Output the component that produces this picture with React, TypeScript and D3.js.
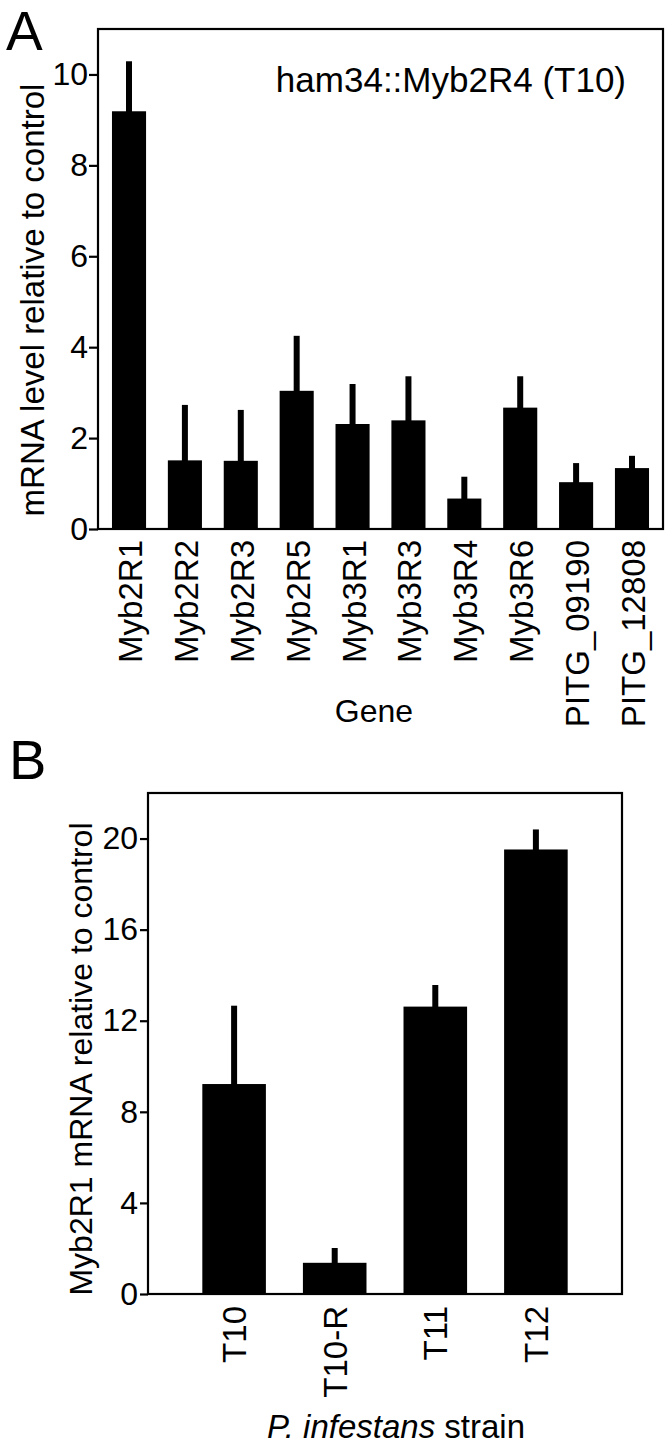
import React, { useEffect, useRef } from 'react';
import * as d3 from 'd3';

// panel A: gene expression in ham34::Myb2R4 (T10)
const genes = ['Myb2R1', 'Myb2R2', 'Myb2R3', 'Myb2R5', 'Myb3R1', 'Myb3R3', 'Myb3R4', 'Myb3R6', 'PITG_09190', 'PITG_12808'];
const geneMeans = [9.19, 1.51, 1.5, 3.04, 2.31, 2.39, 0.67, 2.67, 1.03, 1.34];
const geneErrors = [1.1, 1.22, 1.12, 1.21, 0.88, 0.97, 0.48, 0.69, 0.42, 0.27];
const geneTicks = [0, 2, 4, 6, 8, 10];

// panel B: Myb2R1 level per strain
const strains = ['T10', 'T10-R', 'T11', 'T12'];
const strainMeans = [9.22, 1.37, 12.62, 19.52];
const strainErrors = [3.44, 0.65, 0.95, 0.88];
const strainTicks = [0, 4, 8, 12, 16, 20];

const FONT = "'Liberation Sans', Arial, Helvetica, sans-serif";

function drawPanel(svg, opts) {
    const { left, right, top, bottom, yMax, cats, means, errs, ticks,
        padInner, padOuter, tickSize, tickPad, labelEnd, labelDx } = opts;

    const x = d3.scaleBand()
        .domain(cats)
        .range([left, right])
        .paddingInner(padInner)
        .paddingOuter(padOuter);

    const y = d3.scaleLinear()
        .domain([0, yMax])
        .range([bottom, top]);

    const g = svg.append('g');

    g.selectAll('rect.bar')
        .data(cats)
        .enter()
        .append('rect')
        .attr('class', 'bar')
        .attr('x', d => x(d))
        .attr('y', (d, i) => y(means[i]))
        .attr('width', x.bandwidth())
        .attr('height', (d, i) => bottom - y(means[i]))
        .attr('fill', '#000');

    // error bars, upper half only
    g.selectAll('line.err')
        .data(cats)
        .enter()
        .append('line')
        .attr('class', 'err')
        .attr('x1', d => x(d) + x.bandwidth() / 2)
        .attr('x2', d => x(d) + x.bandwidth() / 2)
        .attr('y1', (d, i) => y(means[i]) + 1)
        .attr('y2', (d, i) => y(means[i] + errs[i]))
        .attr('stroke', '#000')
        .attr('stroke-width', 6);

    g.append('rect')
        .attr('x', left)
        .attr('y', top)
        .attr('width', right - left)
        .attr('height', bottom - top)
        .attr('fill', 'none')
        .attr('stroke', '#000')
        .attr('stroke-width', 2.2);

    const yAxis = g.append('g')
        .attr('transform', `translate(${left},0)`)
        .call(d3.axisLeft(y).tickValues(ticks).tickSize(tickSize).tickPadding(tickPad));
    yAxis.select('.domain').remove();
    yAxis.selectAll('line').attr('stroke', '#000').attr('stroke-width', 2.2);
    yAxis.selectAll('text')
        .attr('fill', '#000')
        .style('font-family', FONT)
        .style('font-size', '32px');

    // rotated category labels
    g.selectAll('text.cat')
        .data(cats)
        .enter()
        .append('text')
        .attr('class', 'cat')
        .attr('transform', d => `translate(${x(d) + x.bandwidth() / 2 + labelDx},${labelEnd}) rotate(-90)`)
        .attr('text-anchor', 'end')
        .style('font-family', FONT)
        .style('font-size', '33px')
        .text(d => d);

    return g;
}

function App() {
    const ref = useRef(null);

    useEffect(() => {
        const svg = d3.select(ref.current);
        svg.selectAll('*').remove();

        // ---- panel A
        drawPanel(svg, {
            left: 98, right: 663, top: 29, bottom: 529, yMax: 11,
            cats: genes, means: geneMeans, errs: geneErrors, ticks: geneTicks,
            padInner: 0.39, padOuter: 0.25, tickSize: 9, tickPad: 1,
            labelEnd: 540, labelDx: 13,
        });

        svg.append('text')
            .attr('x', 6).attr('y', 50)
            .style('font-family', FONT).style('font-size', '55px')
            .text('A');

        svg.append('text')
            .attr('x', 626).attr('y', 92)
            .attr('text-anchor', 'end')
            .style('font-family', FONT).style('font-size', '35px')
            .text('ham34::Myb2R4 (T10)');

        svg.append('text')
            .attr('transform', 'translate(44,300) rotate(-90)')
            .attr('text-anchor', 'middle')
            .style('font-family', FONT).style('font-size', '33px')
            .text('mRNA level relative to control');

        svg.append('text')
            .attr('x', 374).attr('y', 722)
            .attr('text-anchor', 'middle')
            .style('font-family', FONT).style('font-size', '32px')
            .text('Gene');

        // ---- panel B
        drawPanel(svg, {
            left: 148, right: 622, top: 793, bottom: 1294, yMax: 22,
            cats: strains, means: strainMeans, errs: strainErrors, ticks: strainTicks,
            padInner: 0.368, padOuter: 0.54, tickSize: 8, tickPad: 2,
            labelEnd: 1306, labelDx: 12,
        });

        svg.append('text')
            .attr('x', 9).attr('y', 779)
            .style('font-family', FONT).style('font-size', '56px')
            .text('B');

        svg.append('text')
            .attr('transform', 'translate(92,1059) rotate(-90)')
            .attr('text-anchor', 'middle')
            .style('font-family', FONT).style('font-size', '32px')
            .text('Myb2R1 mRNA relative to control');

        const xl = svg.append('text')
            .attr('x', 396).attr('y', 1438)
            .attr('text-anchor', 'middle')
            .style('font-family', FONT).style('font-size', '33px');
        xl.append('tspan').style('font-style', 'italic').text('P. infestans');
        xl.append('tspan').text(' strain');
    }, []);

    return (
        <div style={{ position: 'absolute', left: 0, top: 0 }}>
            <svg ref={ref} width={672} height={1447} style={{ display: 'block', background: '#fff' }} />
        </div>
    );
}

export default App;
